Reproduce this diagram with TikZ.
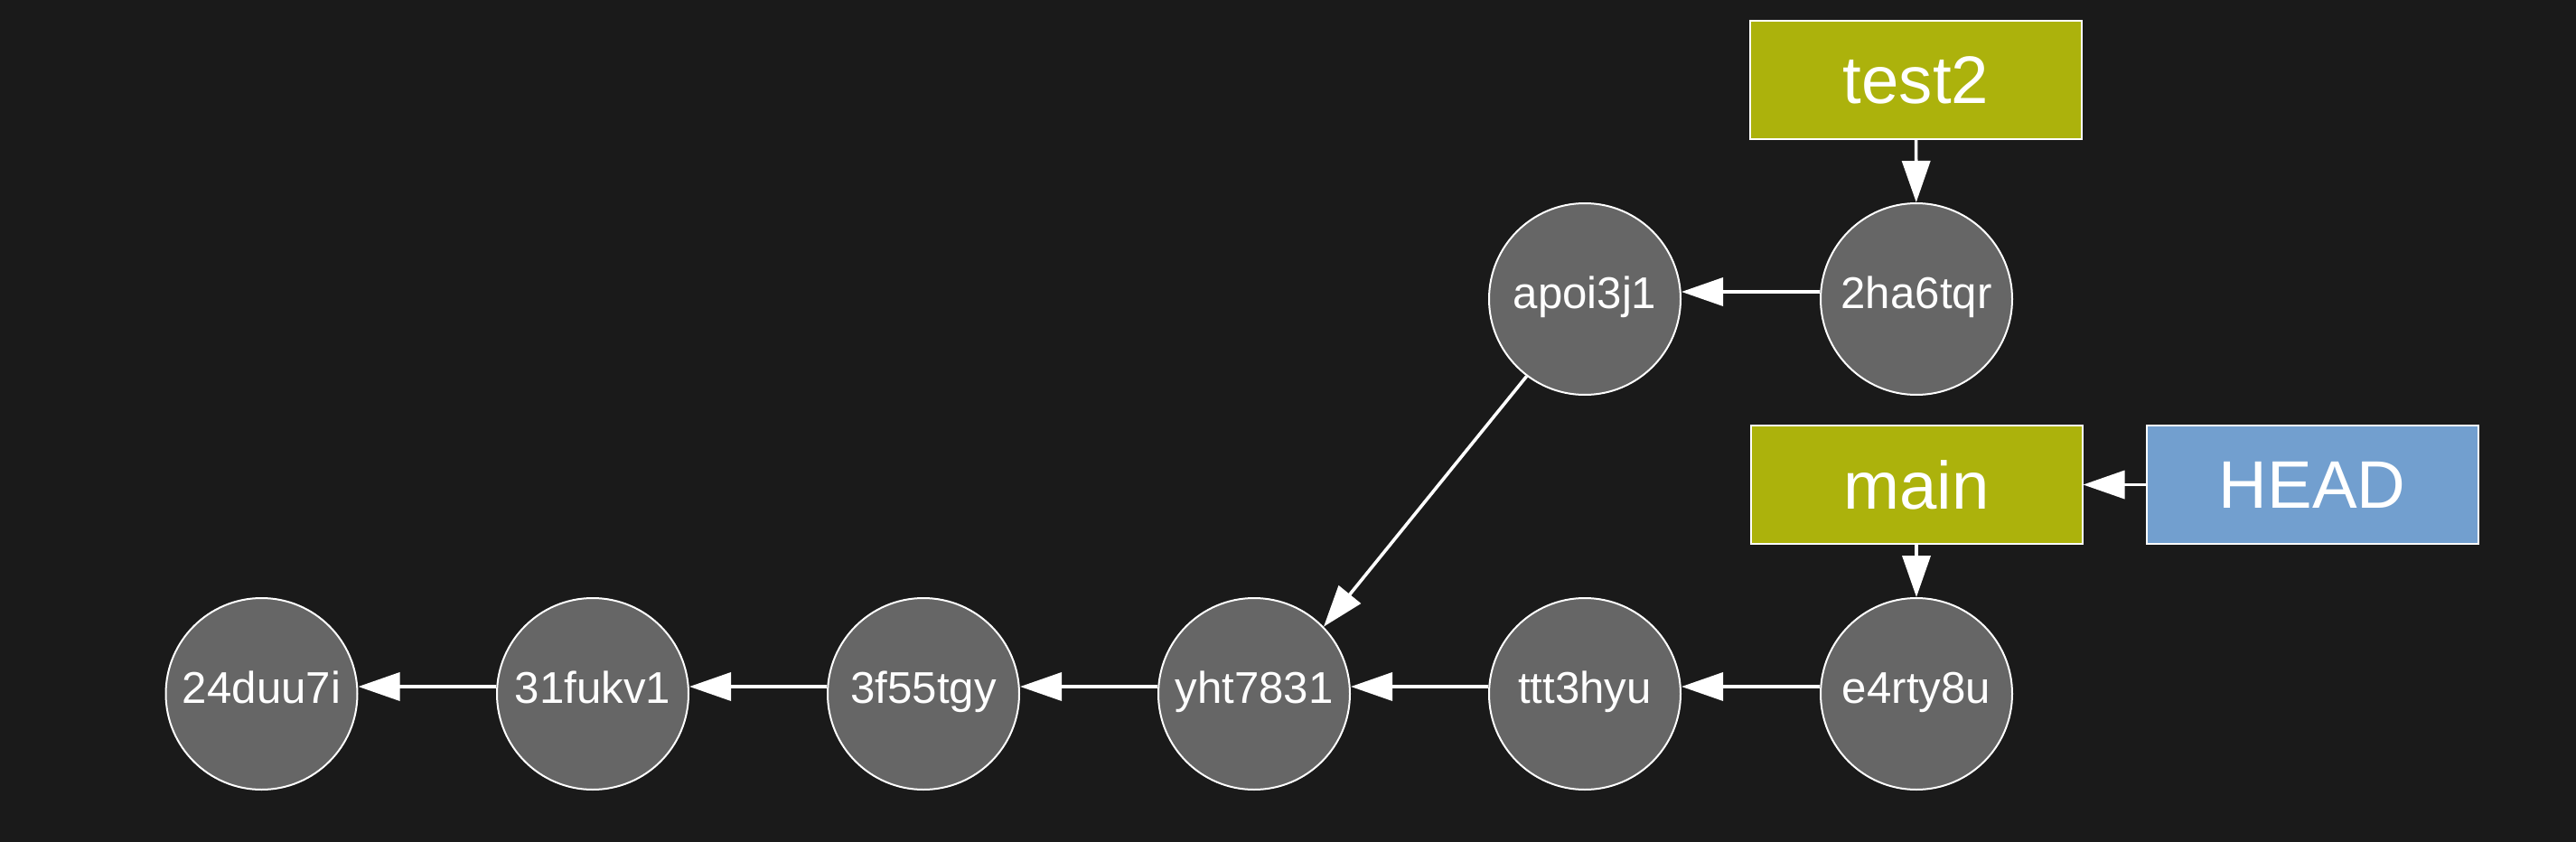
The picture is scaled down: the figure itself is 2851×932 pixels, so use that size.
\documentclass[tikz,border=0pt]{standalone}
\usepackage{fontspec}
\setmainfont{Liberation Sans}
\usetikzlibrary{arrows.meta}
\definecolor{bg}{HTML}{1A1A1A}
\definecolor{commitfill}{HTML}{666666}
\definecolor{branchfill}{HTML}{ACB20C}
\definecolor{headfill}{HTML}{729FCF}
\tikzset{
  commit/.style={circle, draw=white, line width=0.5pt, fill=commitfill, minimum size=53pt, inner sep=0pt, text=white, font=\fontsize{12.3}{14}\selectfont, text height=8.8pt, text depth=3.4pt},
  branch/.style={rectangle, draw=white, line width=0.5pt, fill=branchfill, minimum width=91.75pt, minimum height=32.75pt, inner sep=0pt, text=white, font=\fontsize{18.6}{20}\selectfont},
  headbox/.style={branch, fill=headfill},
  link/.style={draw=white, line width=0.9pt, -{Triangle[length=11.5pt,width=7.75pt]}},
  up/.style={yshift=2pt}
}
\begin{document}
\begin{tikzpicture}[x=0.25pt, y=-0.25pt]
\fill[bg] (0,0) rectangle (2851,932);
\useasboundingbox (0,0) rectangle (2851,932);
\node[commit] (c1) at (289.5,768) {24duu7i};
\node[commit] (c2) at (656,768) {31fukv1};
\node[commit] (c3) at (1022,768) {3f55tgy};
\node[commit] (c4) at (1388,768) {yht7831};
\node[commit] (c5) at (1754,768) {ttt3hyu};
\node[commit] (c6) at (2121,768) {e4rty8u};
\node[commit] (a) at (1754,331) {apoi3j1};
\node[commit] (b) at (2121,331) {2ha6tqr};
\node[branch] (test2) at (2120.5,88.5) {test2};
\node[branch] (main) at (2121,536.5) {main};
\node[headbox] (head) at (2559,536.5) {HEAD};
\draw[link] ([up]c2.west) -- ([up]c1.east);
\draw[link] ([up]c3.west) -- ([up]c2.east);
\draw[link] ([up]c4.west) -- ([up]c3.east);
\draw[link] ([up]c5.west) -- ([up]c4.east);
\draw[link] ([up]c6.west) -- ([up]c5.east);
\draw[link] ([up]b.west) -- ([up]a.east);
\draw[link] (a.233) -- (c4.44);
\draw[link] (test2) -- (b);
\draw[link] (main) -- (c6);
\draw[link] (head) -- (main);
\end{tikzpicture}
\end{document}
